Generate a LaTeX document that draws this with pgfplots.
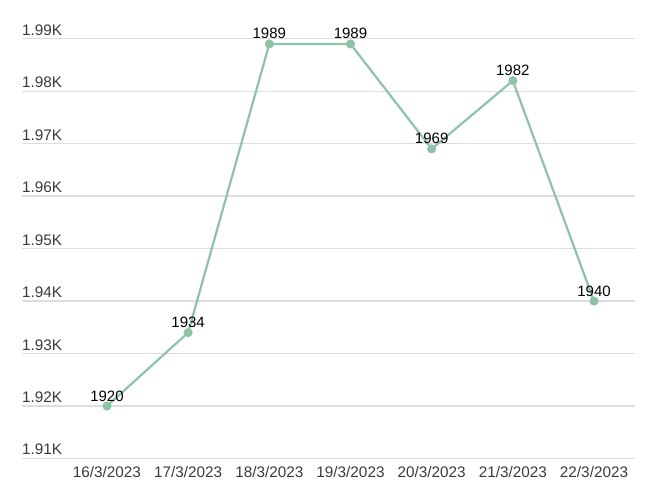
\documentclass[border=0pt]{standalone}
\usepackage{pgfplots}
\pgfplotsset{compat=1.18}
\usepackage{fontspec}
\setmainfont{Liberation Sans}
\definecolor{linec}{HTML}{8DC3A7}
\definecolor{gridc}{HTML}{DDDDDD}
\definecolor{tickc}{HTML}{3A3A3A}
\begin{document}
\begin{tikzpicture}[x=1pt,y=1pt]
\begin{axis}[
  scale only axis,
  width=613pt, height=419.8pt,
  xmin=-1.047, xmax=6.505,
  ymin=1910, ymax=1990,
  axis line style={draw=none},
  major tick length=0pt,
  ytick={1910,1920,...,1990},
  yticklabels={1.91K,1.92K,1.93K,1.94K,1.95K,1.96K,1.97K,1.98K,1.99K},
  ymajorgrids, grid style={gridc, line width=1.3pt},
  yticklabel style={anchor=base west, inner sep=0pt, xshift=0pt, yshift=3.5pt, font=\fontsize{15.3}{18}\selectfont, text=tickc},
  xtick={0,...,6},
  xticklabels={16/3/2023,17/3/2023,18/3/2023,19/3/2023,20/3/2023,21/3/2023,22/3/2023},
  xticklabel style={anchor=north, inner sep=0pt, yshift=-8pt, font=\fontsize{15.3}{18}\selectfont, text=tickc},
  clip=false,
  /pgf/number format/.cd, 1000 sep={}, assume math mode=true,
]
\addplot[color=linec, line width=2.2pt, mark=*, mark size=4.2pt, mark options={draw=linec, fill=linec, line width=0.6pt, solid},
  nodes near coords,
  every node near coord/.append style={anchor=base, inner sep=0pt, yshift=5pt, text=black, font=\fontsize{15}{17}\selectfont}]
coordinates {(0,1920) (1,1934) (2,1989) (3,1989) (4,1969) (5,1982) (6,1940)};
\coordinate (sw) at (rel axis cs:0,0);
\coordinate (ne) at (rel axis cs:1,1);
\end{axis}
\pgfresetboundingbox
\path ([shift={(-22pt,-45.5pt)}]sw) rectangle ([shift={(25pt,38.7pt)}]ne);
\end{tikzpicture}
\end{document}
